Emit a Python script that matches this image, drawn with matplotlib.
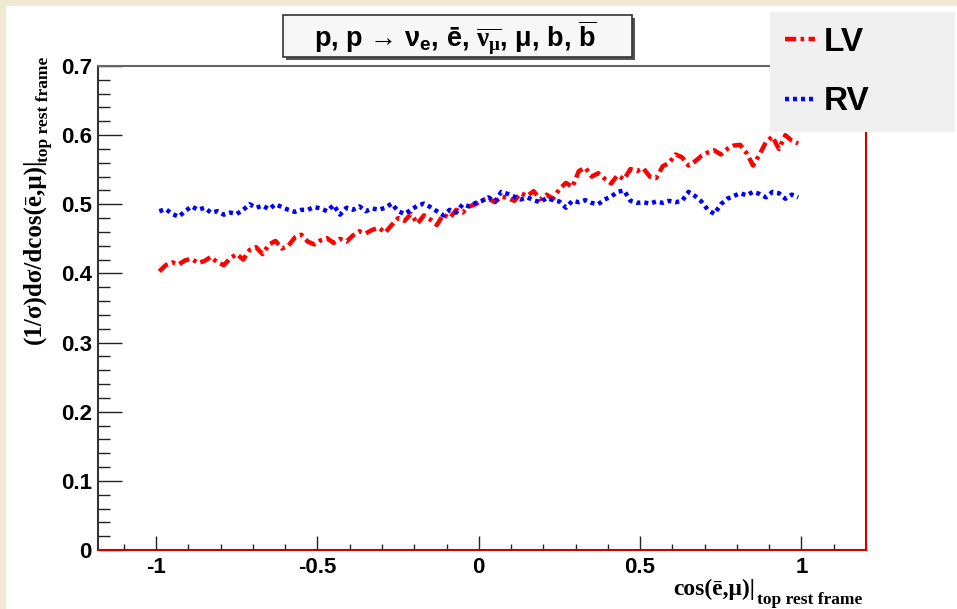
import numpy as np
import matplotlib.pyplot as plt
from matplotlib.patches import Rectangle
from matplotlib.ticker import FixedLocator, MultipleLocator

plt.rcParams['mathtext.fontset'] = 'custom'
plt.rcParams['mathtext.rm'] = 'Liberation Serif:bold'
plt.rcParams['mathtext.it'] = 'Liberation Serif:bold'
plt.rcParams['mathtext.bf'] = 'Liberation Serif:bold'
plt.rcParams['mathtext.sf'] = 'Liberation Sans:bold'

# bin centres of the histograms
x_centres = np.arange(-0.99, 1.0, 0.02)

lv_values = [
    0.403, 0.412, 0.416, 0.413, 0.419, 0.421, 0.415, 0.418, 0.424, 0.416,
    0.412, 0.422, 0.428, 0.420, 0.434, 0.438, 0.428, 0.442, 0.447, 0.436,
    0.440, 0.452, 0.456, 0.446, 0.442, 0.448, 0.451, 0.444, 0.450, 0.446,
    0.455, 0.461, 0.458, 0.463, 0.466, 0.459, 0.470, 0.480, 0.476, 0.486,
    0.472, 0.484, 0.478, 0.470, 0.485, 0.480, 0.492, 0.488, 0.497, 0.500,
    0.506, 0.508, 0.503, 0.511, 0.509, 0.505, 0.516, 0.512, 0.519, 0.507,
    0.514, 0.508, 0.522, 0.531, 0.525, 0.548, 0.553, 0.540, 0.545, 0.537,
    0.530, 0.542, 0.536, 0.551, 0.548, 0.552, 0.540, 0.538, 0.555, 0.560,
    0.572, 0.568, 0.556, 0.562, 0.570, 0.575, 0.578, 0.572, 0.580, 0.585,
    0.586, 0.574, 0.556, 0.572, 0.590, 0.598, 0.580, 0.600, 0.592, 0.588,
]

rv_values = [
    0.490, 0.493, 0.486, 0.482, 0.490, 0.497, 0.492, 0.495, 0.488, 0.490,
    0.485, 0.488, 0.486, 0.492, 0.500, 0.495, 0.498, 0.493, 0.500, 0.496,
    0.492, 0.489, 0.492, 0.492, 0.496, 0.494, 0.490, 0.499, 0.485, 0.495,
    0.492, 0.497, 0.490, 0.494, 0.492, 0.495, 0.501, 0.490, 0.486, 0.492,
    0.498, 0.501, 0.496, 0.490, 0.484, 0.492, 0.488, 0.500, 0.497, 0.502,
    0.505, 0.510, 0.504, 0.518, 0.515, 0.511, 0.507, 0.510, 0.506, 0.503,
    0.509, 0.506, 0.504, 0.495, 0.505, 0.503, 0.506, 0.502, 0.500, 0.507,
    0.511, 0.518, 0.520, 0.505, 0.502, 0.503, 0.501, 0.504, 0.502, 0.505,
    0.503, 0.505, 0.518, 0.512, 0.504, 0.492, 0.486, 0.500, 0.508, 0.512,
    0.516, 0.513, 0.518, 0.515, 0.510, 0.518, 0.516, 0.508, 0.514, 0.510,
]

x_ticks = [-1, -0.5, 0, 0.5, 1]
x_ticklabels = ['-1', '-0.5', '0', '0.5', '1']
y_ticks = [0, 0.1, 0.2, 0.3, 0.4, 0.5, 0.6, 0.7]
y_ticklabels = ['0', '0.1', '0.2', '0.3', '0.4', '0.5', '0.6', '0.7']

fig = plt.figure(figsize=(9.57, 6.09), dpi=100)
fig.patch.set_facecolor('white')

# beige slide border
fig.patches.append(Rectangle((0, 0), 6 / 957, 1, transform=fig.transFigure,
                             facecolor='#f1ead2', edgecolor='none', zorder=0))
fig.patches.append(Rectangle((0, 1 - 6 / 609), 1, 6 / 609, transform=fig.transFigure,
                             facecolor='#f1ead2', edgecolor='none', zorder=0))

ax = fig.add_axes([98 / 957, 59 / 609, 768 / 957, 484 / 609])

ax.plot(x_centres, lv_values, color='#ff0000', lw=3.2,
        linestyle=(0, (2.5, 1, 0.8, 1)), label='LV')
ax.plot(x_centres, rv_values, color='#0000ff', lw=3.2,
        linestyle=(0, (0.9, 0.9)), label='RV')

ax.set_xlim(-1.18, 1.2)
ax.set_ylim(0, 0.7)

ax.xaxis.set_major_locator(FixedLocator(x_ticks))
ax.set_xticklabels(x_ticklabels)
ax.xaxis.set_minor_locator(MultipleLocator(0.1))
ax.yaxis.set_major_locator(FixedLocator(y_ticks))
ax.set_yticklabels(y_ticklabels)
ax.yaxis.set_minor_locator(MultipleLocator(0.02))

ax.tick_params(which='both', direction='in', top=False, right=False, color='#222222')
ax.tick_params(axis='y', which='major', length=17, width=1, pad=4.5)
ax.tick_params(axis='y', which='minor', length=8.7, width=1)
ax.tick_params(axis='x', which='major', length=10, width=1, pad=5)
ax.tick_params(axis='x', which='minor', length=4.5, width=1)
for lab in ax.get_xticklabels() + ax.get_yticklabels():
    lab.set_fontfamily('Liberation Sans')
    lab.set_fontweight('bold')
    lab.set_fontsize(16)

ax.spines['left'].set_color('#333333')
ax.spines['top'].set_color('#666666')
ax.spines['right'].set_color('#cc0000')
ax.spines['bottom'].set_color('#cc0000')
for s in ax.spines.values():
    s.set_linewidth(1.5)

# axis titles, ROOT style with a lowered subscript
fig.text(755 / 957, 1 - 595 / 609, 'cos(ē,μ)|', ha='right', va='baseline',
         fontsize=17, fontweight='bold', family='Liberation Serif')
fig.text(757 / 957, 1 - 604 / 609, 'top rest frame', ha='left', va='baseline',
         fontsize=12.5, fontweight='bold', family='Liberation Serif')
fig.text(40 / 957, 1 - 158 / 609, '(1/σ)dσ/dcos(ē,μ)|', ha='right', va='baseline',
         rotation=90, rotation_mode='anchor', fontsize=18, fontweight='bold',
         family='Liberation Serif')
fig.text(48 / 957, 1 - 57 / 609, 'top rest frame', ha='right', va='baseline',
         rotation=90, rotation_mode='anchor', fontsize=12.5, fontweight='bold',
         family='Liberation Serif')

# title box with shadow
fig.patches.append(Rectangle((286 / 957, 1 - 60 / 609), 349 / 957, 42 / 609,
                             transform=fig.transFigure, facecolor='#555555',
                             edgecolor='none', zorder=1))
fig.patches.append(Rectangle((283 / 957, 1 - 57 / 609), 349 / 957, 42 / 609,
                             transform=fig.transFigure, facecolor='#f7f7f7',
                             edgecolor='#333333', lw=1.2, zorder=2))
fig.text(455 / 957, 1 - 38 / 609,
         r'p, p → ν$_{\mathsf{e}}$, ē, $\overline{\nu_{\mu}}$, μ, b, $\overline{\mathsf{b}}$',
         ha='center', va='center', fontsize=19.5, fontweight='bold',
         family=['Liberation Sans', 'DejaVu Sans'], zorder=3)

leg = fig.legend(loc='upper left',
                 bbox_to_anchor=(770 / 957, 1 - 127 / 609, 185 / 957, 115 / 609),
                 mode='expand', frameon=True, fancybox=False, facecolor='#f0f0f0',
                 edgecolor='none', framealpha=1, handlelength=0.9, handletextpad=0.25,
                 borderpad=0.45, labelspacing=0.85, borderaxespad=0,
                 prop={'family': 'Liberation Sans', 'weight': 'bold', 'size': 24})

fig.savefig('out.png', dpi=100)
